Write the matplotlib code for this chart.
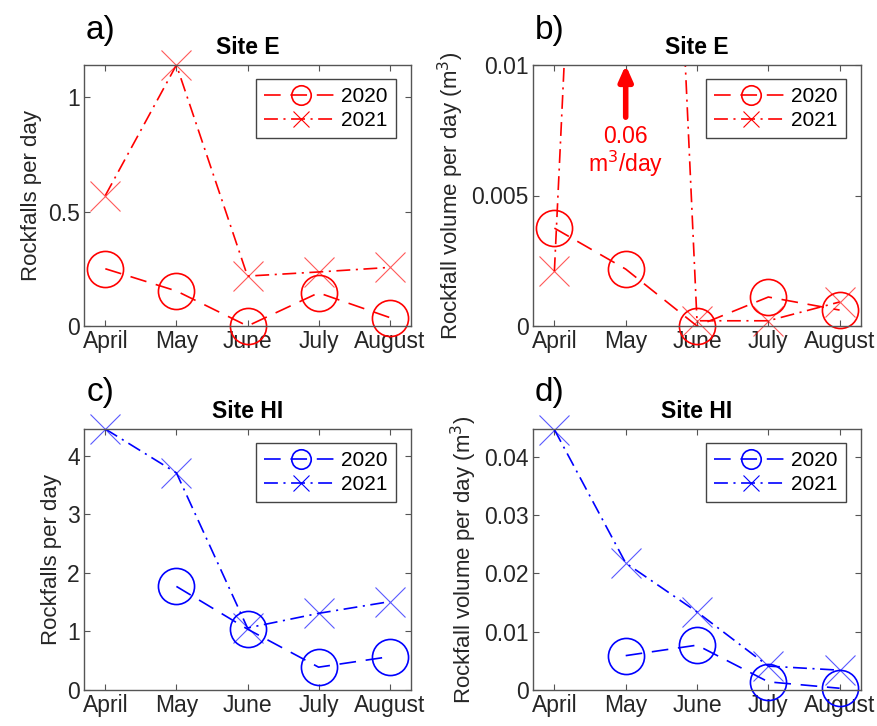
import numpy as np
import matplotlib.pyplot as plt
from matplotlib.lines import Line2D

plt.rcParams['font.family'] = ['Liberation Sans', 'DejaVu Sans']
plt.rcParams['lines.scale_dashes'] = False

months = ['April', 'May', 'June', 'July', 'August']
x = np.arange(1, 6)

# Site E
e_count_2020 = [0.25, 0.153, 0.0, 0.145, 0.037]
e_count_2021 = [0.57, 1.14, 0.218, 0.236, 0.256]
e_vol_2020 = [0.00375, 0.00218, 0.0, 0.00111, 0.00061]
e_vol_2021 = [0.0021, 0.06, 0.0002, 0.0002, 0.00092]

# Site HI
hi_count_2020 = [np.nan, 1.77, 1.04, 0.39, 0.57]
hi_count_2021 = [4.46, 3.71, 1.06, 1.31, 1.51]
hi_vol_2020 = [np.nan, 0.0059, 0.0077, 0.0014, 0.0003]
hi_vol_2021 = [0.0447, 0.0218, 0.0134, 0.0041, 0.0034]

DASH = (0, (12, 7))
DASHDOT = (0, (10, 4, 1.5, 4))
AXCOL = '#555555'
TXT = '#262626'

fig = plt.figure(figsize=(8.78, 7.26), dpi=100)
W, H = 878, 726


def make_ax(l, t, r, b):
    return fig.add_axes([l / W, 1 - b / H, (r - l) / W, (b - t) / H])


def panel(ax, y20, y21, color, ylim, yticks, yticklabels, ylabel, title):
    y20 = np.asarray(y20, float)
    y21 = np.asarray(y21, float)
    # lines are clipped by the axes
    ax.plot(x, y20, linestyle=DASH, color=color, lw=1.2)
    ax.plot(x, y21, linestyle=DASHDOT, color=color, lw=1.2)
    # markers are not clipped at the axes edge (only those inside range)
    m20 = np.where(y20 <= ylim[1] * 1.001, y20, np.nan)
    m21 = np.where(y21 <= ylim[1] * 1.001, y21, np.nan)
    ax.plot(x, m20, linestyle='none', color=color, marker='o', markersize=26,
            markerfacecolor='none', markeredgewidth=1.2, clip_on=False)
    ax.plot(x, m21, linestyle='none', color=color, marker='x', markersize=22,
            markeredgewidth=0.8, alpha=0.65, clip_on=False)
    ax.set_xlim(0.7, 5.3)
    ax.set_ylim(*ylim)
    ax.set_xticks(x)
    ax.set_xticklabels(months)
    ax.set_yticks(yticks)
    ax.set_yticklabels(yticklabels)
    ax.tick_params(direction='in', top=True, right=True, length=4,
                   width=0.8, color=AXCOL, labelsize=16.5, labelcolor=TXT,
                   pad=3)
    for s in ax.spines.values():
        s.set_color(AXCOL)
        s.set_linewidth(1.0)
    ax.set_ylabel(ylabel, fontsize=16, color=TXT, labelpad=4)
    ax.set_title(title, fontsize=16.5, fontweight='bold', color='black',
                 pad=8)
    handles = [
        Line2D([], [], linestyle=DASH, color=color, lw=1.2, marker='o',
               markersize=14, markerfacecolor='none', markeredgewidth=1.2),
        Line2D([], [], linestyle=DASHDOT, color=color, lw=1.2, marker='x',
               markersize=12, markeredgewidth=0.8),
    ]
    leg = ax.legend(handles, ['2020', '2021'], loc='upper right',
                    bbox_to_anchor=(0.955, 0.948), borderaxespad=0,
                    fontsize=15, handlelength=3.5, handletextpad=0.2,
                    labelspacing=0.25, borderpad=0.4, fancybox=False,
                    framealpha=1, edgecolor='#444444')
    leg.get_frame().set_linewidth(1.0)


ax_a = make_ax(84, 65, 411, 326)
panel(ax_a, e_count_2020, e_count_2021, 'red', (0, 1.14),
      [0, 0.5, 1], ['0', '0.5', '1'], 'Rockfalls per day', 'Site E')

ax_b = make_ax(533, 65, 861, 326)
panel(ax_b, e_vol_2020, e_vol_2021, 'red', (0, 0.01),
      [0, 0.005, 0.01], ['0', '0.005', '0.01'],
      'Rockfall volume per day (m$^3$)', 'Site E')
ax_b.annotate('', xy=(2, 0.01), xytext=(2, 0.0080),
              arrowprops=dict(arrowstyle='-|>,head_length=0.9,head_width=0.4',
                              color='red', lw=4, shrinkA=0, shrinkB=0))
ax_b.text(2, 0.00725, '0.06', color='red', fontsize=16.5, ha='center',
          va='center')
ax_b.text(2, 0.0062, 'm$^3$/day', color='red', fontsize=16.5, ha='center',
          va='center')

ax_c = make_ax(84, 429, 411, 690)
panel(ax_c, hi_count_2020, hi_count_2021, 'blue', (0, 4.46),
      [0, 1, 2, 3, 4], ['0', '1', '2', '3', '4'], 'Rockfalls per day',
      'Site HI')

ax_d = make_ax(533, 429, 861, 690)
panel(ax_d, hi_vol_2020, hi_vol_2021, 'blue', (0, 0.0448),
      [0, 0.01, 0.02, 0.03, 0.04], ['0', '0.01', '0.02', '0.03', '0.04'],
      'Rockfall volume per day (m$^3$)', 'Site HI')

for lab, px, py in [('a)', 86, 30), ('b)', 535, 30), ('c)', 87, 392),
                    ('d)', 535, 392)]:
    fig.text(px / W, 1 - py / H, lab, fontsize=24, ha='left', va='center',
             color='black')

fig.savefig('out.png', dpi=100)
